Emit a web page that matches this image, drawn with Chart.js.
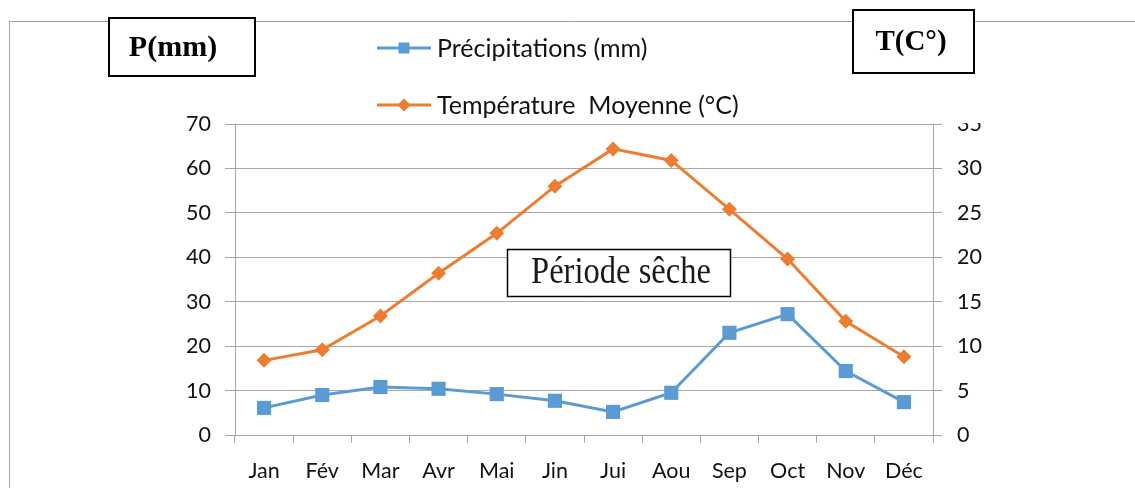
<!DOCTYPE html>
<html>
<head>
<meta charset="utf-8">
<script src="https://cdn.jsdelivr.net/npm/chart.js@4/dist/chart.umd.min.js"></script>
<style>
  html, body { margin: 0; padding: 0; background: #fff; }
  #wrap { width: 1135px; height: 488px; position: relative; }
</style>
</head>
<body>
<div id="wrap"><canvas id="c" width="1135" height="488"></canvas></div>
<script>
// Monthly climate data
const months = ['Jan', 'Fév', 'Mar', 'Avr', 'Mai', 'Jin', 'Jui', 'Aou', 'Sep', 'Oct', 'Nov', 'Déc'];
const precipitation = [6.1, 9.0, 10.8, 10.4, 9.2, 7.7, 5.2, 9.5, 23.0, 27.2, 14.4, 7.4];   // mm
const temperature = [8.4, 9.6, 13.4, 18.2, 22.7, 28.0, 32.2, 30.9, 25.4, 19.8, 12.8, 8.8]; // °C
const precipAxis = { min: 0, max: 70, step: 10 };
const tempAxis = { min: 0, max: 35, step: 5 };

const BLUE = '#5B9BD5';
const ORANGE = '#ED7D31';
const GRID = '#a6a6a6';
const TEXT = '#111111';
const SANS = 'Lato, "Open Sans", sans-serif';
const SERIF = '"Liberation Serif", "DejaVu Serif", serif';
const TICK_FONT = { family: SANS, size: 21.5 };

// Frame, axis title boxes, legend and annotation
const decorations = {
  id: 'decorations',
  beforeDraw(chart) {
    const ctx = chart.ctx;
    ctx.save();
    ctx.fillStyle = '#fff';
    ctx.fillRect(0, 0, chart.width, chart.height);
    ctx.strokeStyle = '#a0a0a0';
    ctx.lineWidth = 1;
    ctx.beginPath();
    ctx.moveTo(9.5, chart.height + 2);
    ctx.lineTo(9.5, 21.5);
    ctx.lineTo(chart.width + 2, 21.5);
    ctx.stroke();
    ctx.restore();
  },
  afterDraw(chart) {
    const ctx = chart.ctx;
    ctx.save();

    // label boxes
    function box(x, y, w, h, lw) {
      ctx.fillStyle = '#fff';
      ctx.fillRect(x, y, w, h);
      ctx.strokeStyle = '#000';
      ctx.lineWidth = lw;
      ctx.strokeRect(x, y, w, h);
    }
    box(109, 18, 146, 58, 2);
    ctx.fillStyle = '#000';
    ctx.font = 'bold 30px ' + SERIF;
    ctx.textAlign = 'center';
    ctx.textBaseline = 'middle';
    ctx.fillText('P(mm)', 173, 48);

    box(853, 10, 121, 63, 2);
    ctx.fillStyle = '#000';
    ctx.font = 'bold 29px ' + SERIF;
    ctx.fillText('T(C°)', 911, 43);

    box(507.5, 249.5, 223, 47, 1.5);
    ctx.fillStyle = '#1a1a1a';
    ctx.save();
    ctx.translate(621, 273);
    ctx.scale(0.88, 1);
    ctx.font = '37px ' + SERIF;
    ctx.fillText('Période sêche', 0, 0);
    ctx.restore();

    // legend, one entry per row
    const rows = [48, 105];
    chart.data.datasets.forEach((ds, i) => {
      const y = rows[i];
      ctx.strokeStyle = ds.borderColor;
      ctx.lineWidth = 3;
      ctx.beginPath();
      ctx.moveTo(377, y);
      ctx.lineTo(431, y);
      ctx.stroke();
      ctx.fillStyle = ds.backgroundColor;
      ctx.beginPath();
      if (ds.pointStyle === 'rect') {
        ctx.rect(404 - 5.5, y - 5.5, 11, 11);
      } else {
        ctx.moveTo(404, y - 6.5);
        ctx.lineTo(410.5, y);
        ctx.lineTo(404, y + 6.5);
        ctx.lineTo(397.5, y);
        ctx.closePath();
      }
      ctx.fill();
      ctx.fillStyle = TEXT;
      ctx.font = '25px ' + SANS;
      ctx.textAlign = 'left';
      ctx.textBaseline = 'middle';
      ctx.fillText(ds.label, 437, y + 1);
    });

    // the top right-axis label sits partly under the frame's edge
    ctx.fillStyle = '#fff';
    ctx.fillRect(945, 106, 55, 17);
    ctx.restore();
  }
};

function start() {
  new Chart(document.getElementById('c'), {
    type: 'line',
    data: {
      labels: months,
      datasets: [
        {
          label: 'Précipitations (mm)',
          data: precipitation,
          yAxisID: 'yP',
          borderColor: BLUE,
          backgroundColor: BLUE,
          borderWidth: 3,
          pointStyle: 'rect',
          pointRadius: 10,
          pointBorderWidth: 0,
          tension: 0
        },
        {
          label: 'Température  Moyenne (°C)',
          data: temperature,
          yAxisID: 'yT',
          borderColor: ORANGE,
          backgroundColor: ORANGE,
          borderWidth: 3,
          pointStyle: 'rectRot',
          pointRadius: 7.5,
          pointBorderWidth: 0,
          tension: 0
        }
      ]
    },
    options: {
      responsive: false,
      animation: false,
      layout: { padding: { top: 124, left: 0, right: 0, bottom: 0 } },
      plugins: { legend: { display: false }, tooltip: { enabled: false } },
      scales: {
        x: {
          type: 'category',
          offset: true,
          grid: { offset: true, drawOnChartArea: false, drawTicks: true, tickLength: 8, color: GRID, tickColor: GRID },
          border: { display: true, color: GRID },
          ticks: { color: TEXT, font: TICK_FONT, padding: 15, maxRotation: 0, autoSkip: false },
          afterFit(s) { s.height = 53; }
        },
        yP: {
          position: 'left',
          min: precipAxis.min, max: precipAxis.max,
          ticks: { stepSize: precipAxis.step, color: TEXT, font: TICK_FONT, padding: 14 },
          grid: { color: GRID, tickColor: GRID, tickLength: 10 },
          border: { display: true, color: GRID },
          afterFit(s) { s.width = 235; }
        },
        yT: {
          position: 'right',
          min: tempAxis.min, max: tempAxis.max,
          ticks: { stepSize: tempAxis.step, color: TEXT, font: TICK_FONT, padding: 15 },
          grid: { drawOnChartArea: false, color: GRID, tickColor: GRID, tickLength: 9 },
          border: { display: true, color: GRID },
          afterFit(s) { s.width = 1135 - 933; }
        }
      }
    },
    plugins: [decorations]
  });
}

Promise.all([
  document.fonts.load('19px Lato'),
  document.fonts.load('bold 30px "Liberation Serif"'),
  document.fonts.load('37px "Liberation Serif"')
]).then(start, start);
</script>
</body>
</html>
